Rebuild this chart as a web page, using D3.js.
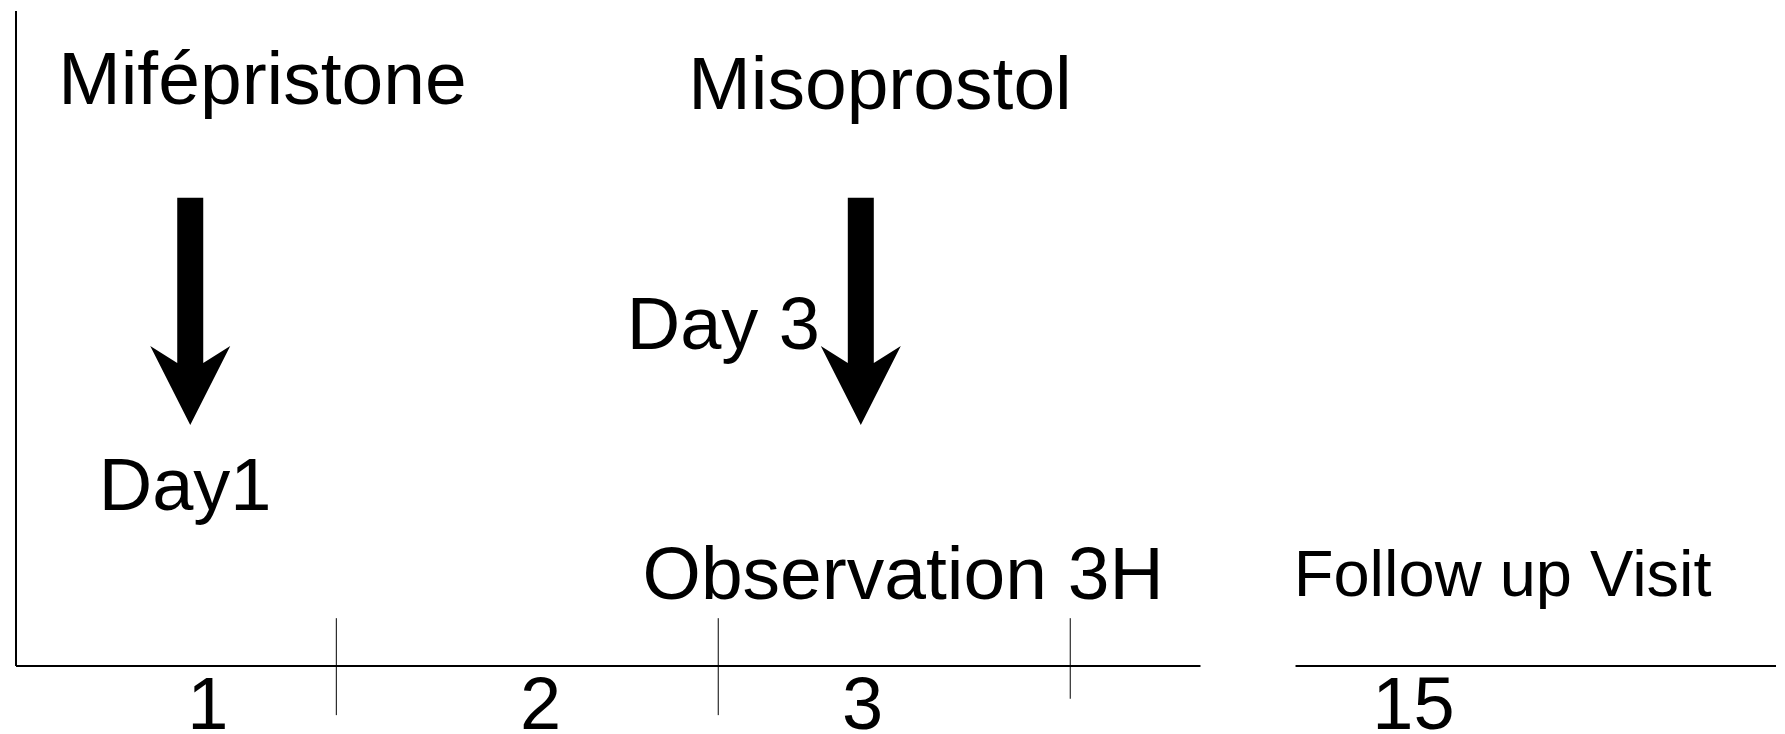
<!DOCTYPE html>
<html>
<head>
<meta charset="utf-8">
<script src="https://cdn.jsdelivr.net/npm/d3@7"></script>
<style>
  body { margin: 0; background: #fff; }
  text { font-family: "Liberation Sans", Arial, sans-serif; fill: #000; }
</style>
</head>
<body>
<script>
//timeline units: x 0..100 across the page, y 0..100 from the baseline up to the top of the vertical axis
var axisSegments = [[0, 67.3], [72.7, 100]];
var separators = [18.2, 39.9, 59.9];
var separatorDepth = [-7.5, -7.5, -5.0];
var dayLabels = ["1", "2", "3", "15"];
var dayLabelX = [10.9, 29.8, 48.1, 79.4];

var drugs = ["Mifépristone", "Misoprostol"];
var drugX = [2.4, 38.2];
var drugY = [85.8, 85.0];

var arrowX = [9.9, 48.0];
var arrowTop = 71.5, arrowTip = 36.8;

var notes = ["Day1", "Day 3", "Observation 3H", "Follow up Visit"];
var noteX = [4.7, 34.7, 35.6, 72.6];
var noteY = [23.8, 48.4, 10.2, 10.7];
var noteSize = [74, 74, 75, 65];

window.onload = drawTimeline();

function drawTimeline(){
    var width = 1785,
        height = 734;

    var svg = d3.select("body")
        .append("svg")
        .attr("width", width)
        .attr("height", height);

    var x = d3.scaleLinear().domain([0, 100]).range([16, 1776]);
    var y = d3.scaleLinear().domain([0, 100]).range([666, 11]);

    //vertical axis
    svg.append("line")
        .attr("x1", x(0)).attr("x2", x(0))
        .attr("y1", y(0)).attr("y2", y(100))
        .attr("stroke", "#000").attr("stroke-width", 2);

    //broken horizontal axis
    svg.selectAll(".seg")
        .data(axisSegments)
        .enter()
        .append("line")
        .attr("class", "seg")
        .attr("x1", function(d){ return x(d[0]); })
        .attr("x2", function(d){ return x(d[1]); })
        .attr("y1", y(0)).attr("y2", y(0))
        .attr("stroke", "#000").attr("stroke-width", 2);

    //day separators
    svg.selectAll(".sep")
        .data(separators)
        .enter()
        .append("line")
        .attr("class", "sep")
        .attr("x1", function(d){ return x(d); })
        .attr("x2", function(d){ return x(d); })
        .attr("y1", y(7.3))
        .attr("y2", function(d, i){ return y(separatorDepth[i]); })
        .attr("stroke", "#000").attr("stroke-width", 1);

    //day numbers under the axis
    svg.selectAll(".day")
        .data(dayLabels)
        .enter()
        .append("text")
        .attr("class", "day")
        .attr("x", function(d, i){ return x(dayLabelX[i]); })
        .attr("y", y(-9.6))
        .attr("text-anchor", "middle")
        .style("font-size", "74px")
        .text(function(d){ return d; });

    //drug names
    svg.selectAll(".drug")
        .data(drugs)
        .enter()
        .append("text")
        .attr("class", "drug")
        .attr("x", function(d, i){ return x(drugX[i]); })
        .attr("y", function(d, i){ return y(drugY[i]); })
        .style("font-size", "75px")
        .text(function(d){ return d; });

    //down arrows
    var shaft = 13, wing = 40, headLen = 79, back = 17;
    svg.selectAll(".arrow")
        .data(arrowX)
        .enter()
        .append("path")
        .attr("class", "arrow")
        .attr("d", function(d){
            var cx = x(d), top = y(arrowTop), tip = y(arrowTip), wy = tip - headLen;
            return "M" + (cx - shaft) + "," + top +
                "L" + (cx - shaft) + "," + (wy + back) +
                "L" + (cx - wing) + "," + wy +
                "L" + cx + "," + tip +
                "L" + (cx + wing) + "," + wy +
                "L" + (cx + shaft) + "," + (wy + back) +
                "L" + (cx + shaft) + "," + top + "Z";
        })
        .attr("fill", "#000");

    //other notes
    svg.selectAll(".note")
        .data(notes)
        .enter()
        .append("text")
        .attr("class", "note")
        .attr("x", function(d, i){ return x(noteX[i]); })
        .attr("y", function(d, i){ return y(noteY[i]); })
        .style("font-size", function(d, i){ return noteSize[i] + "px"; })
        .text(function(d){ return d; });
}
</script>
</body>
</html>
